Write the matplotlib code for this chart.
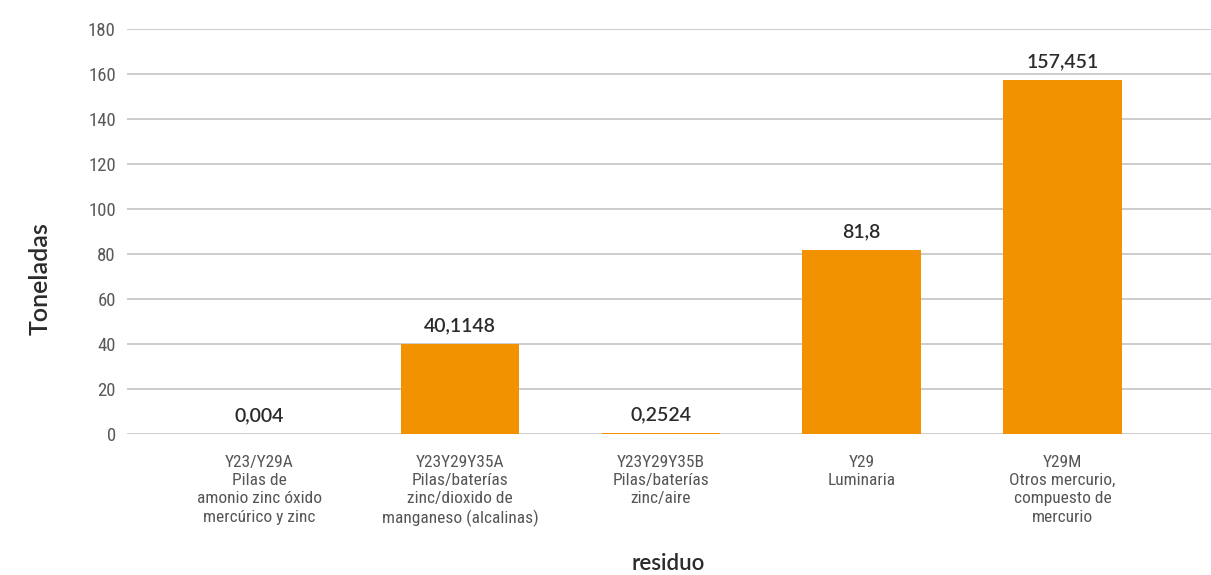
import matplotlib.pyplot as plt
import matplotlib as mpl

# data
categorias = [
  "Y23/Y29A\nPilas de\namonio zinc óxido\nmercúrico y zinc",
  "Y23Y29Y35A\nPilas/baterías\nzinc/dioxido de\nmanganeso (alcalinas)",
  "Y23Y29Y35B\nPilas/baterías\nzinc/aire",
  "Y29\nLuminaria",
  "Y29M\nOtros mercurio,\ncompuesto de\nmercurio",
]
toneladas = [0.004, 40.1148, 0.2524, 81.8, 157.451]
etiquetas = ["0,004", "40,1148", "0,2524", "81,8", "157,451"]
yticks = [0, 20, 40, 60, 80, 100, 120, 140, 160, 180]

narrow = ['Roboto Condensed', 'Liberation Sans Narrow', 'DejaVu Sans Condensed', 'DejaVu Sans']
mpl.rcParams['font.family'] = ['Lato', 'DejaVu Sans']

fig = plt.figure(figsize=(12.11, 5.75), dpi=100)
ax = fig.add_axes([127/1211, 141/575, 1 - 127/1211, (434-29)/575])

x = list(range(len(categorias)))
bars = ax.bar(x, toneladas, width=0.59, color='#f39200', zorder=3)

for xi, v, lab in zip(x, toneladas, etiquetas):
  ax.annotate(lab, (xi, v), xytext=(0, 7), textcoords='offset points',
              ha='center', va='bottom', fontsize=14, fontweight='semibold', color='#2b2b2b')

ax.set_ylim(0, 180)
ax.set_xlim(-0.66, 4.74)
ax.set_yticks(yticks)
ax.set_yticklabels([str(t) for t in yticks], family=narrow, fontsize=13.5, color='#5a5a5a')
ax.set_xticks(x)
ax.set_xticklabels(categorias, family=narrow, fontsize=12.5, color='#555555', linespacing=1.27, va='top')
ax.tick_params(axis='both', length=0)
ax.tick_params(axis='x', pad=15)
ax.tick_params(axis='y', pad=8)

ax.grid(axis='y', color='#cccccc', linewidth=1.4, zorder=0)
for s in ax.spines.values():
  s.set_visible(False)

fig.text(40/1211, 1 - 279/575, "Toneladas", rotation=90, ha='center', va='center',
         fontsize=18, fontweight='semibold', color='#2b2b2b')
fig.text(668/1211, 1 - 563/575, "residuo", ha='center', va='center',
         fontsize=16, fontweight='semibold', color='#2b2b2b')

fig.savefig('out.png', dpi=100)
